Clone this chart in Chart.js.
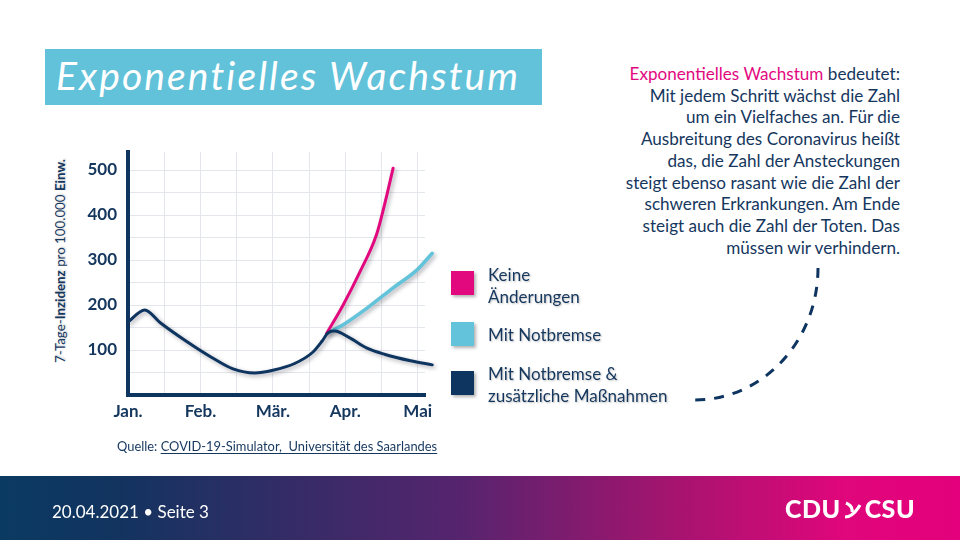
<!DOCTYPE html>
<html>
<head>
<meta charset="utf-8">
<script src="https://cdn.jsdelivr.net/npm/chart.js@4/dist/chart.umd.min.js"></script>
<style>
  html, body { margin: 0; padding: 0; }
  body { width: 960px; height: 540px; position: relative; overflow: hidden; background: #fff; font-family: Lato, "Open Sans", sans-serif; color: #15375e; }
  .abs { position: absolute; }
  #title { left: 45px; top: 49px; width: 497px; height: 56px; background: #62c2da; }
  #title span { position: absolute; left: 11px; top: 3px; color: #fff; font-style: italic; font-size: 39px; letter-spacing: 2.1px; white-space: nowrap; }
  #wrap { left: 40px; top: 130px; width: 420px; height: 300px; }
  #ytitle { left: 60px; top: 261px; transform: translate(-50%, -50%) rotate(-90deg); font-size: 13.3px; white-space: nowrap; text-shadow: 1px 1px 2px rgba(0,0,0,0.2); }
  #legend .item { position: absolute; left: 451px; }
  #legend .sw { position: absolute; left: 0; width: 23px; height: 24px; box-shadow: 2px 2px 3px rgba(0,0,0,0.3); }
  #legend .lb { position: absolute; left: 37px; font-size: 17px; line-height: 21.5px; white-space: nowrap; text-shadow: 1px 1px 2px rgba(0,0,0,0.25); }
  #text { right: 60px; top: 63px; text-align: right; font-size: 17.1px; line-height: 21.7px; white-space: nowrap; }
  #text .hl { color: #e2097f; }
  #source { left: 117px; top: 438px; font-size: 12.9px; white-space: nowrap; }
  #source u { text-underline-offset: 2px; }
  #footer { left: 0; top: 476px; width: 960px; height: 64px; background: linear-gradient(90deg, #0a3a62 0%, #12345f 12%, #56246e 48%, #a5146f 70%, #e0067b 88%, #e4007c 100%); }
  #date { left: 52px; top: 501px; color: #fff; font-size: 17px; white-space: nowrap; }
  #logo { left: 785px; top: 493px; color: #fff; font-size: 25px; font-weight: 900; white-space: nowrap; letter-spacing: 0.5px; }
  #logo svg { vertical-align: -2px; margin: 0 2px; }
</style>
</head>
<body>
<div id="title" class="abs"><span>Exponentielles Wachstum</span></div>

<div id="ytitle" class="abs">7-Tage-<b>Inzidenz</b> pro 100.000 <b>Einw.</b></div>
<div id="wrap" class="abs"><canvas id="chart" width="420" height="300"></canvas></div>
<div id="legend"></div>

<div id="text" class="abs">
  <span class="hl">Exponentielles Wachstum</span> bedeutet:<br>
  Mit jedem Schritt wächst die Zahl<br>
  um ein Vielfaches an. Für die<br>
  Ausbreitung des Coronavirus heißt<br>
  das, die Zahl der Ansteckungen<br>
  steigt ebenso rasant wie die Zahl der<br>
  schweren Erkrankungen. Am Ende<br>
  steigt auch die Zahl der Toten. Das<br>
  müssen wir verhindern.
</div>

<svg class="abs" style="left:0;top:0" width="960" height="540">
  <path d="M818 268 A123 132 0 0 1 695 400" fill="none" stroke="#0e3460" stroke-width="3" stroke-dasharray="10 9"/>
</svg>

<div id="source" class="abs">Quelle: <u>COVID-19-Simulator,&nbsp; Universität des Saarlandes</u></div>

<div id="footer" class="abs"></div>
<div id="date" class="abs">20.04.2021 • Seite 3</div>
<div id="logo" class="abs">CDU<svg width="20" height="20" viewBox="0 0 20 20"><path d="M3 3 Q10 6 9 12" fill="none" stroke="#fff" stroke-width="3.2"/><path d="M2 17 Q10 17 17 5" fill="none" stroke="#fff" stroke-width="3.2"/></svg>CSU</div>

<script>
// month tick labels (x = months since January)
const months = ['Jan.', 'Feb.', 'Mär.', 'Apr.', 'Mai'];
const yLabels = [100, 200, 300, 400, 500];

const seriesNames = ['Keine\nÄnderungen', 'Mit Notbremse', 'Mit Notbremse &\nzusätzliche Maßnahmen'];
const seriesColors = ['#e2097f', '#62c3da', '#0e3460'];

// Mit Notbremse & zusätzliche Maßnahmen (also the common history)
const baseX = [0, 0.23, 0.45, 0.8, 1.15, 1.45, 1.75, 2.0, 2.3, 2.55, 2.68, 2.76, 2.85, 3.05, 3.3, 3.55, 3.9, 4.2];
const baseY = [162, 189, 160, 120, 84, 58, 49, 55, 70, 95, 120, 138, 142, 128, 104, 90, 76, 67];

// Keine Änderungen
const noneX = [2.74, 2.97, 3.2, 3.43, 3.54, 3.66];
const noneY = [136, 200, 273, 356, 422, 504];

// Mit Notbremse
const brakeX = [2.76, 2.97, 3.3, 3.66, 3.99, 4.2];
const brakeY = [138, 156, 193, 238, 278, 315];

const navy = '#15375e';
const gridColor = '#e3e6eb';

function pts(xs, ys) {
  return xs.map((x, i) => ({x: x, y: ys[i]}));
}

// legend
let html = '';
const legendTops = [271, 322, 371];
const labelTops = [264, 324, 363];
for (let i = 0; i < seriesNames.length; i++) {
  html += '<div class="item" style="top:' + legendTops[i] + 'px">' +
    '<div class="sw" style="background:' + seriesColors[i] + '"></div></div>' +
    '<div class="item" style="top:' + labelTops[i] + 'px"><div class="lb">' +
    seriesNames[i].replace('\n', '<br>') + '</div></div>';
}
document.getElementById('legend').innerHTML = html;

const shadow = {
  id: 'shadow',
  beforeDatasetDraw(chart) {
    const ctx = chart.ctx;
    ctx.save();
    ctx.shadowColor = 'rgba(30,30,50,0.35)';
    ctx.shadowBlur = 4;
    ctx.shadowOffsetX = 2;
    ctx.shadowOffsetY = 2;
  },
  afterDatasetDraw(chart) {
    chart.ctx.restore();
  }
};

const line = (data, color, order, w) => ({
  data: data,
  borderColor: color,
  borderWidth: w,
  pointRadius: 0,
  cubicInterpolationMode: 'monotone',
  clip: false,
  order: order,
  borderCapStyle: 'round'
});

// grid every half month / every 50
const xGrid = [];
for (let v = 0; v <= 4; v += 0.5) xGrid.push({value: v});
const yGrid = [];
for (let v = 0; v <= 500; v += 50) yGrid.push({value: v});

new Chart(document.getElementById('chart').getContext('2d'), {
  type: 'line',
  data: {
    datasets: [
      line(pts(noneX, noneY), seriesColors[0], 1, 3),
      line(pts(brakeX, brakeY), seriesColors[1], 2, 3.5),
      line(pts(baseX, baseY), seriesColors[2], 0, 3)
    ]
  },
  options: {
    responsive: false,
    animation: false,
    layout: {padding: {left: 0, top: 22, right: 35, bottom: 0}},
    plugins: {legend: {display: false}, tooltip: {enabled: false}},
    scales: {
      x: {
        type: 'linear',
        min: 0,
        max: 4.1,
        afterBuildTicks: s => { s.ticks = xGrid.map(t => ({value: t.value})); },
        afterFit: s => { s.height = 35; },
        grid: {color: gridColor, lineWidth: 1, drawTicks: false},
        border: {display: true, color: '#0e3460', width: 4},
        ticks: {
          autoSkip: false,
          maxRotation: 0,
          padding: 6,
          color: navy,
          font: {family: 'Lato', size: 17, weight: 'bold'},
          callback: v => Number.isInteger(v) ? months[v] : ''
        }
      },
      y: {
        min: 0,
        max: 540,
        afterBuildTicks: s => { s.ticks = yGrid.map(t => ({value: t.value})); },
        afterFit: s => { s.width = 88; },
        grid: {color: gridColor, lineWidth: 1, drawTicks: false},
        border: {display: true, color: '#0e3460', width: 4},
        ticks: {
          autoSkip: false,
          padding: 11,
          color: navy,
          font: {family: 'Lato', size: 17, weight: 'bold'},
          callback: v => yLabels.includes(v) ? v : ''
        }
      }
    }
  },
  plugins: [shadow]
});
</script>
</body>
</html>
